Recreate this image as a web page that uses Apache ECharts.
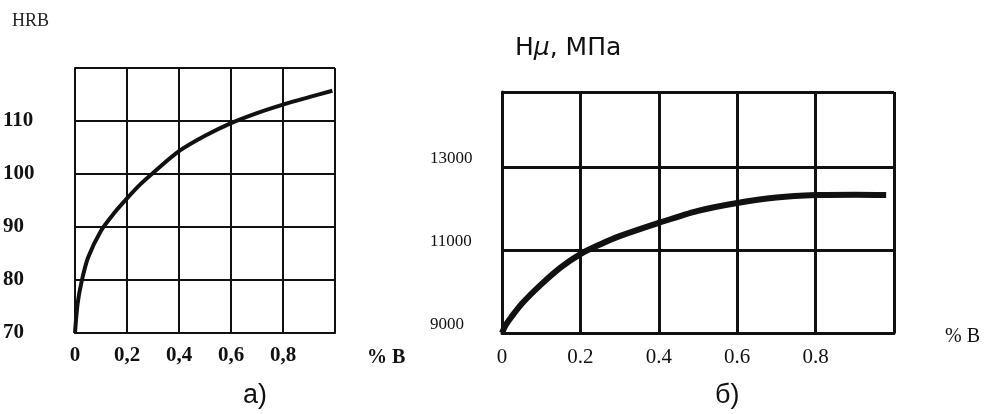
<!DOCTYPE html>
<html>
<head>
<meta charset="utf-8">
<script src="https://cdn.jsdelivr.net/npm/echarts@6/dist/echarts.min.js"></script>
<style>
    html, body { margin: 0; padding: 0; background: #fff; }
    #chart { width: 985px; height: 414px; }
</style>
</head>
<body>
<div id="chart"></div>
<script>
    // а) HRB от % B
    var boronA = [0, 0.01, 0.025, 0.05, 0.1, 0.15, 0.2, 0.25, 0.3, 0.4, 0.5, 0.6, 0.7, 0.8, 0.9, 0.99];
    var hrbA = [70, 75.5, 79.6, 84.2, 89.3, 92.6, 95.4, 98, 100.2, 104.3, 107.2, 109.6, 111.5, 113.1, 114.5, 115.7];
    var xTicksA = ['0', '0,2', '0,4', '0,6', '0,8'];
    var yTicksA = [70, 80, 90, 100, 110];

    // б) Hμ, МПа от % B
    var boronB = [0, 0.01, 0.025, 0.05, 0.1, 0.15, 0.2, 0.25, 0.3, 0.4, 0.5, 0.6, 0.7, 0.8, 0.9, 0.98];
    var hmuB = [9000, 9200, 9400, 9700, 10170, 10580, 10900, 11130, 11330, 11650, 11940, 12130, 12260, 12320, 12330, 12320];
    var xTicksB = ['0', '0.2', '0.4', '0.6', '0.8'];
    var yTicksB = [9000, 11000, 13000];

    function pairs(xs, ys) {
        return xs.map(function (x, i) { return [x, ys[i]]; });
    }

    // подпись оси только для тех значений, что есть на рисунке
    function xFmt(labels) {
        return function (v) {
            var i = Math.round(v / 0.2);
            return labels[i] !== undefined && Math.abs(v - i * 0.2) < 1e-6 ? labels[i] : '';
        };
    }
    function yFmt(ticks) {
        return function (v) { return ticks.indexOf(v) >= 0 ? String(v) : ''; };
    }

    var ink = '#111';
    var serif = 'Liberation Serif';

    var myChart = echarts.init(document.getElementById('chart'));
    myChart.setOption({
        backgroundColor: '#fff',
        animation: false,
        grid: [
            { left: 75, right: 650, top: 68, bottom: 81 },
            { left: 502, right: 91, top: 92, bottom: 81 }
        ],
        xAxis: [
            {
                gridIndex: 0, type: 'value', min: 0, max: 1, interval: 0.2,
                axisLine: { lineStyle: { color: ink, width: 2 } },
                axisTick: { show: false },
                splitLine: { show: true, lineStyle: { color: ink, width: 2 } },
                axisLabel: {
                    formatter: xFmt(xTicksA), margin: 12, showMaxLabel: false,
                    color: ink, fontFamily: serif, fontWeight: 'bold', fontSize: 21
                }
            },
            {
                gridIndex: 1, type: 'value', min: 0, max: 1, interval: 0.2,
                axisLine: { lineStyle: { color: ink, width: 3 } },
                axisTick: { show: false },
                splitLine: { show: true, lineStyle: { color: ink, width: 3 } },
                axisLabel: {
                    formatter: xFmt(xTicksB), margin: 14, showMaxLabel: false,
                    color: ink, fontFamily: serif, fontSize: 21
                }
            }
        ],
        yAxis: [
            {
                gridIndex: 0, type: 'value', min: 70, max: 120, interval: 10,
                axisLine: { show: true, lineStyle: { color: ink, width: 2 } },
                axisTick: { show: false },
                splitLine: { show: true, lineStyle: { color: ink, width: 2 } },
                axisLabel: {
                    formatter: yFmt(yTicksA), align: 'left', margin: 72,
                    color: ink, fontFamily: serif, fontWeight: 'bold', fontSize: 21
                }
            },
            {
                gridIndex: 1, type: 'value', min: 9000, max: 14800, interval: 2000,
                axisLine: { show: true, lineStyle: { color: ink, width: 3 } },
                axisTick: { show: false },
                splitLine: { show: true, lineStyle: { color: ink, width: 3 } },
                axisLabel: {
                    formatter: yFmt(yTicksB), align: 'left', margin: 72, verticalAlign: 'bottom',
                    color: ink, fontFamily: serif, fontSize: 17
                }
            }
        ],
        series: [
            {
                type: 'line', xAxisIndex: 0, yAxisIndex: 0,
                data: pairs(boronA, hrbA),
                smooth: 0.3, symbol: 'none',
                lineStyle: { color: ink, width: 4 }
            },
            {
                type: 'line', xAxisIndex: 1, yAxisIndex: 1,
                data: pairs(boronB, hmuB),
                smooth: 0.3, symbol: 'none',
                lineStyle: { color: ink, width: 6 }
            }
        ],
        graphic: [
            { type: 'text', left: 12, top: 12, style: { text: 'HRB', fill: '#222', font: '18px "Liberation Serif"' } },
            { type: 'text', left: 367, top: 348, style: { text: '% B', fill: ink, font: 'bold 20px "Liberation Serif"' } },
            { type: 'text', left: 243, top: 382, style: { text: 'а)', fill: ink, font: '27px "Liberation Sans"' } },
            {
                type: 'text', left: 515, top: 36,
                style: {
                    text: 'H{i|μ}, МПа', fill: ink, font: '25px "DejaVu Sans"',
                    rich: { i: { fontStyle: 'italic', fontSize: 25, fontFamily: 'DejaVu Sans' } }
                }
            },
            { type: 'text', left: 945, top: 327, style: { text: '% B', fill: ink, font: '20px "Liberation Serif"' } },
            { type: 'text', left: 715, top: 382, style: { text: 'б)', fill: ink, font: '27px "Liberation Sans"' } }
        ]
    });
</script>
</body>
</html>
